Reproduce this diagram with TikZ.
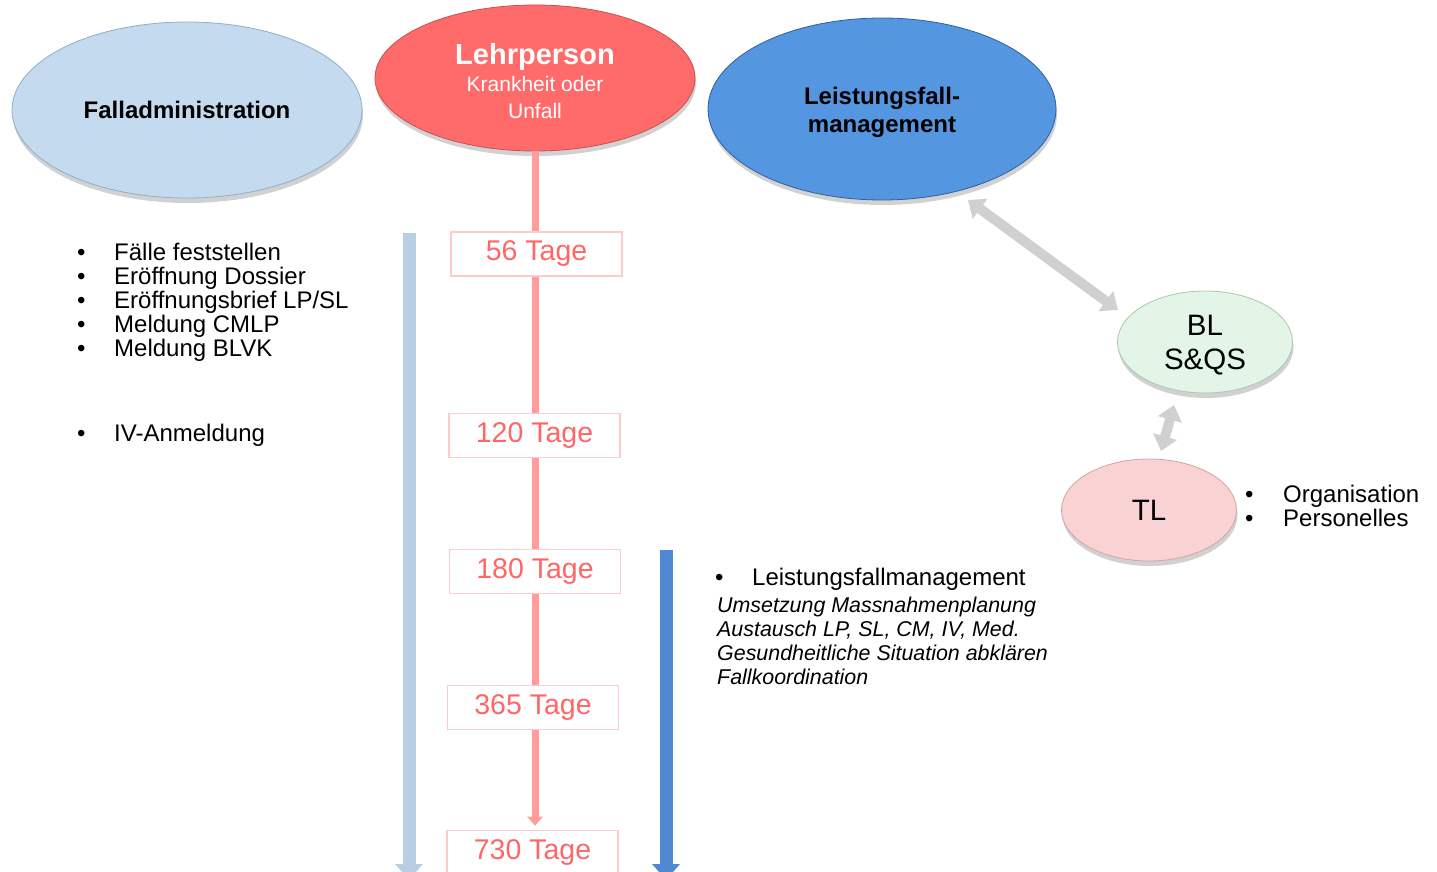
\documentclass[tikz,border=0pt]{standalone}
\usepackage{fontspec}
\setmainfont{Liberation Sans}
\usetikzlibrary{shapes.geometric,arrows.meta,shadows}
\definecolor{faFill}{HTML}{C4DAEF}
\definecolor{faLine}{HTML}{8FAECB}
\definecolor{lpFill}{HTML}{FF6B6B}
\definecolor{lpLine}{HTML}{C94F4F}
\definecolor{lfFill}{HTML}{5596E0}
\definecolor{lfLine}{HTML}{2F5F9E}
\definecolor{blFill}{HTML}{E2F5E6}
\definecolor{blLine}{HTML}{A9C7B1}
\definecolor{tlFill}{HTML}{F9D2D4}
\definecolor{tlLine}{HTML}{D3A3A6}
\definecolor{redLine}{HTML}{FF9C9C}
\definecolor{boxLine}{HTML}{FFCACA}
\definecolor{boxText}{HTML}{FF6666}
\definecolor{lightArrow}{HTML}{B8CEE3}
\definecolor{darkArrow}{HTML}{5089D3}
\definecolor{greyArrow}{HTML}{D0D0D0}
\tikzset{
  oval/.style={ellipse, inner sep=0pt, line width=0.8pt,
    drop shadow={shadow xshift=1pt, shadow yshift=-5pt, opacity=0.3, fill=black!60}},
  ovaltext/.style={inner sep=0pt, align=center},
  daybox/.style={rectangle, draw=boxLine, line width=1.6pt, fill=white,
    minimum width=171pt, minimum height=44pt, inner sep=0pt, text=boxText,
    font=\fontsize{28.5}{30}\selectfont},
  listtext/.style={anchor=base west, inner sep=0pt, font=\fontsize{24}{24}\selectfont},
  ittext/.style={anchor=base west, inner sep=0pt, font=\fontsize{21.4}{24}\selectfont\itshape},
  timeline/.style={line width=13pt, -{Triangle[width=27pt,length=16pt]}},
  link/.style={greyArrow, line width=10pt, {Triangle[width=24pt,length=15pt]}-{Triangle[width=24pt,length=15pt]}},
}
\begin{document}
\begin{tikzpicture}[x=1pt,y=-1pt]
\useasboundingbox (0,0) rectangle (1437,872);
\clip (0,0) rectangle (1437,872);

% ellipses
\node[oval, fill=faFill, draw=faLine, minimum width=350pt, minimum height=176pt] (fa) at (187,110) {};
\node[ovaltext, font=\fontsize{24}{24}\selectfont\bfseries] (fatx) at (fa.center) {Falladministration};
\node[oval, fill=lpFill, draw=lpLine, minimum width=320pt, minimum height=146pt] (lp) at (535,78) {};
\node[ovaltext, text=white, font=\fontsize{21}{27}\selectfont] (lptx) at ([yshift=-3pt]lp.center)
  {{\fontsize{29}{29}\selectfont\bfseries Lehrperson}\\Krankheit oder\\Unfall};
\node[oval, fill=lfFill, draw=lfLine, minimum width=348pt, minimum height=182pt] (lf) at (882,109) {};
\node[ovaltext, font=\fontsize{24}{28}\selectfont\bfseries] (lftx) at ([yshift=-3pt]lf.center) {Leistungsfall-\\management};
\node[oval, fill=blFill, draw=blLine, minimum width=175pt, minimum height=102pt] (bl) at (1205,342) {};
\node[ovaltext, font=\fontsize{29.5}{34}\selectfont] (bltx) at ([yshift=-3pt]bl.center) {BL\\S\&QS};
\node[oval, fill=tlFill, draw=tlLine, minimum width=175pt, minimum height=102pt] (tl) at (1149,510) {};
\node[ovaltext, font=\fontsize{29.5}{34}\selectfont] (tltx) at (tl.center) {TL};

% timeline arrows
\coordinate (la1) at (409,233);
\coordinate (la2) at (409,880);
\draw[timeline, lightArrow] (la1) -- (la2);
\coordinate (da1) at (666,550);
\coordinate (da2) at (666,880);
\draw[timeline, darkArrow] (da1) -- (da2);

% red day line
\node[daybox] (t56) at (536.5,254) {56 Tage};
\node[daybox] (t120) at (534.5,435.5) {120 Tage};
\node[daybox] (t180) at (535,571.5) {180 Tage};
\node[daybox] (t365) at (533,707.5) {365 Tage};
\node[daybox] (t730) at (532.5,852.5) {730 Tage};
\draw[redLine, line width=7pt] (lp.south) -- (t56.north -| lp.south);
\draw[redLine, line width=7pt] (t56.south -| lp.south) -- (t120.north -| lp.south);
\draw[redLine, line width=7pt] (t120.south -| lp.south) -- (t180.north -| lp.south);
\draw[redLine, line width=7pt] (t180.south -| lp.south) -- (t365.north -| lp.south);
\draw[redLine, line width=7pt, -{Triangle[width=15pt,length=9pt]}] (t365.south -| lp.south) -- ([yshift=4pt]t730.north -| lp.south);

% grey links
\coordinate (g1a) at (968,200);
\coordinate (g1b) at (1118,310);
\draw[link] (g1a) -- (g1b);
\coordinate (g2a) at (1174,405);
\coordinate (g2b) at (1161,451);
\draw[link] (g2a) -- (g2b);

% left list
\foreach \y/\t [count=\i] in {260/{Fälle feststellen}, 284/{Eröffnung Dossier}, 308/{Eröffnungsbrief LP/SL}, 332/{Meldung CMLP}, 356/{Meldung BLVK}, 441/{IV-Anmeldung}}{
  \node[listtext] (lb\i) at (77,\y) {•};
  \node[listtext] (lt\i) at (114,\y) {\t};
}

% right list
\node[listtext] (rb) at (715,585) {•};
\node[listtext] (rt) at (752,585) {Leistungsfallmanagement};
\node[ittext] (r1) at (717,612) {Umsetzung Massnahmenplanung};
\node[ittext] (r2) at (717,636) {Austausch LP, SL, CM, IV, Med.};
\node[ittext] (r3) at (717,660) {Gesundheitliche Situation abklären};
\node[ittext] (r4) at (717,684) {Fallkoordination};

% TL list
\node[listtext] (tb1) at (1245,502) {•};
\node[listtext] (tt1) at (1283,502) {Organisation};
\node[listtext] (tb2) at (1245,526) {•};
\node[listtext] (tt2) at (1283,526) {Personelles};
\end{tikzpicture}
\end{document}
